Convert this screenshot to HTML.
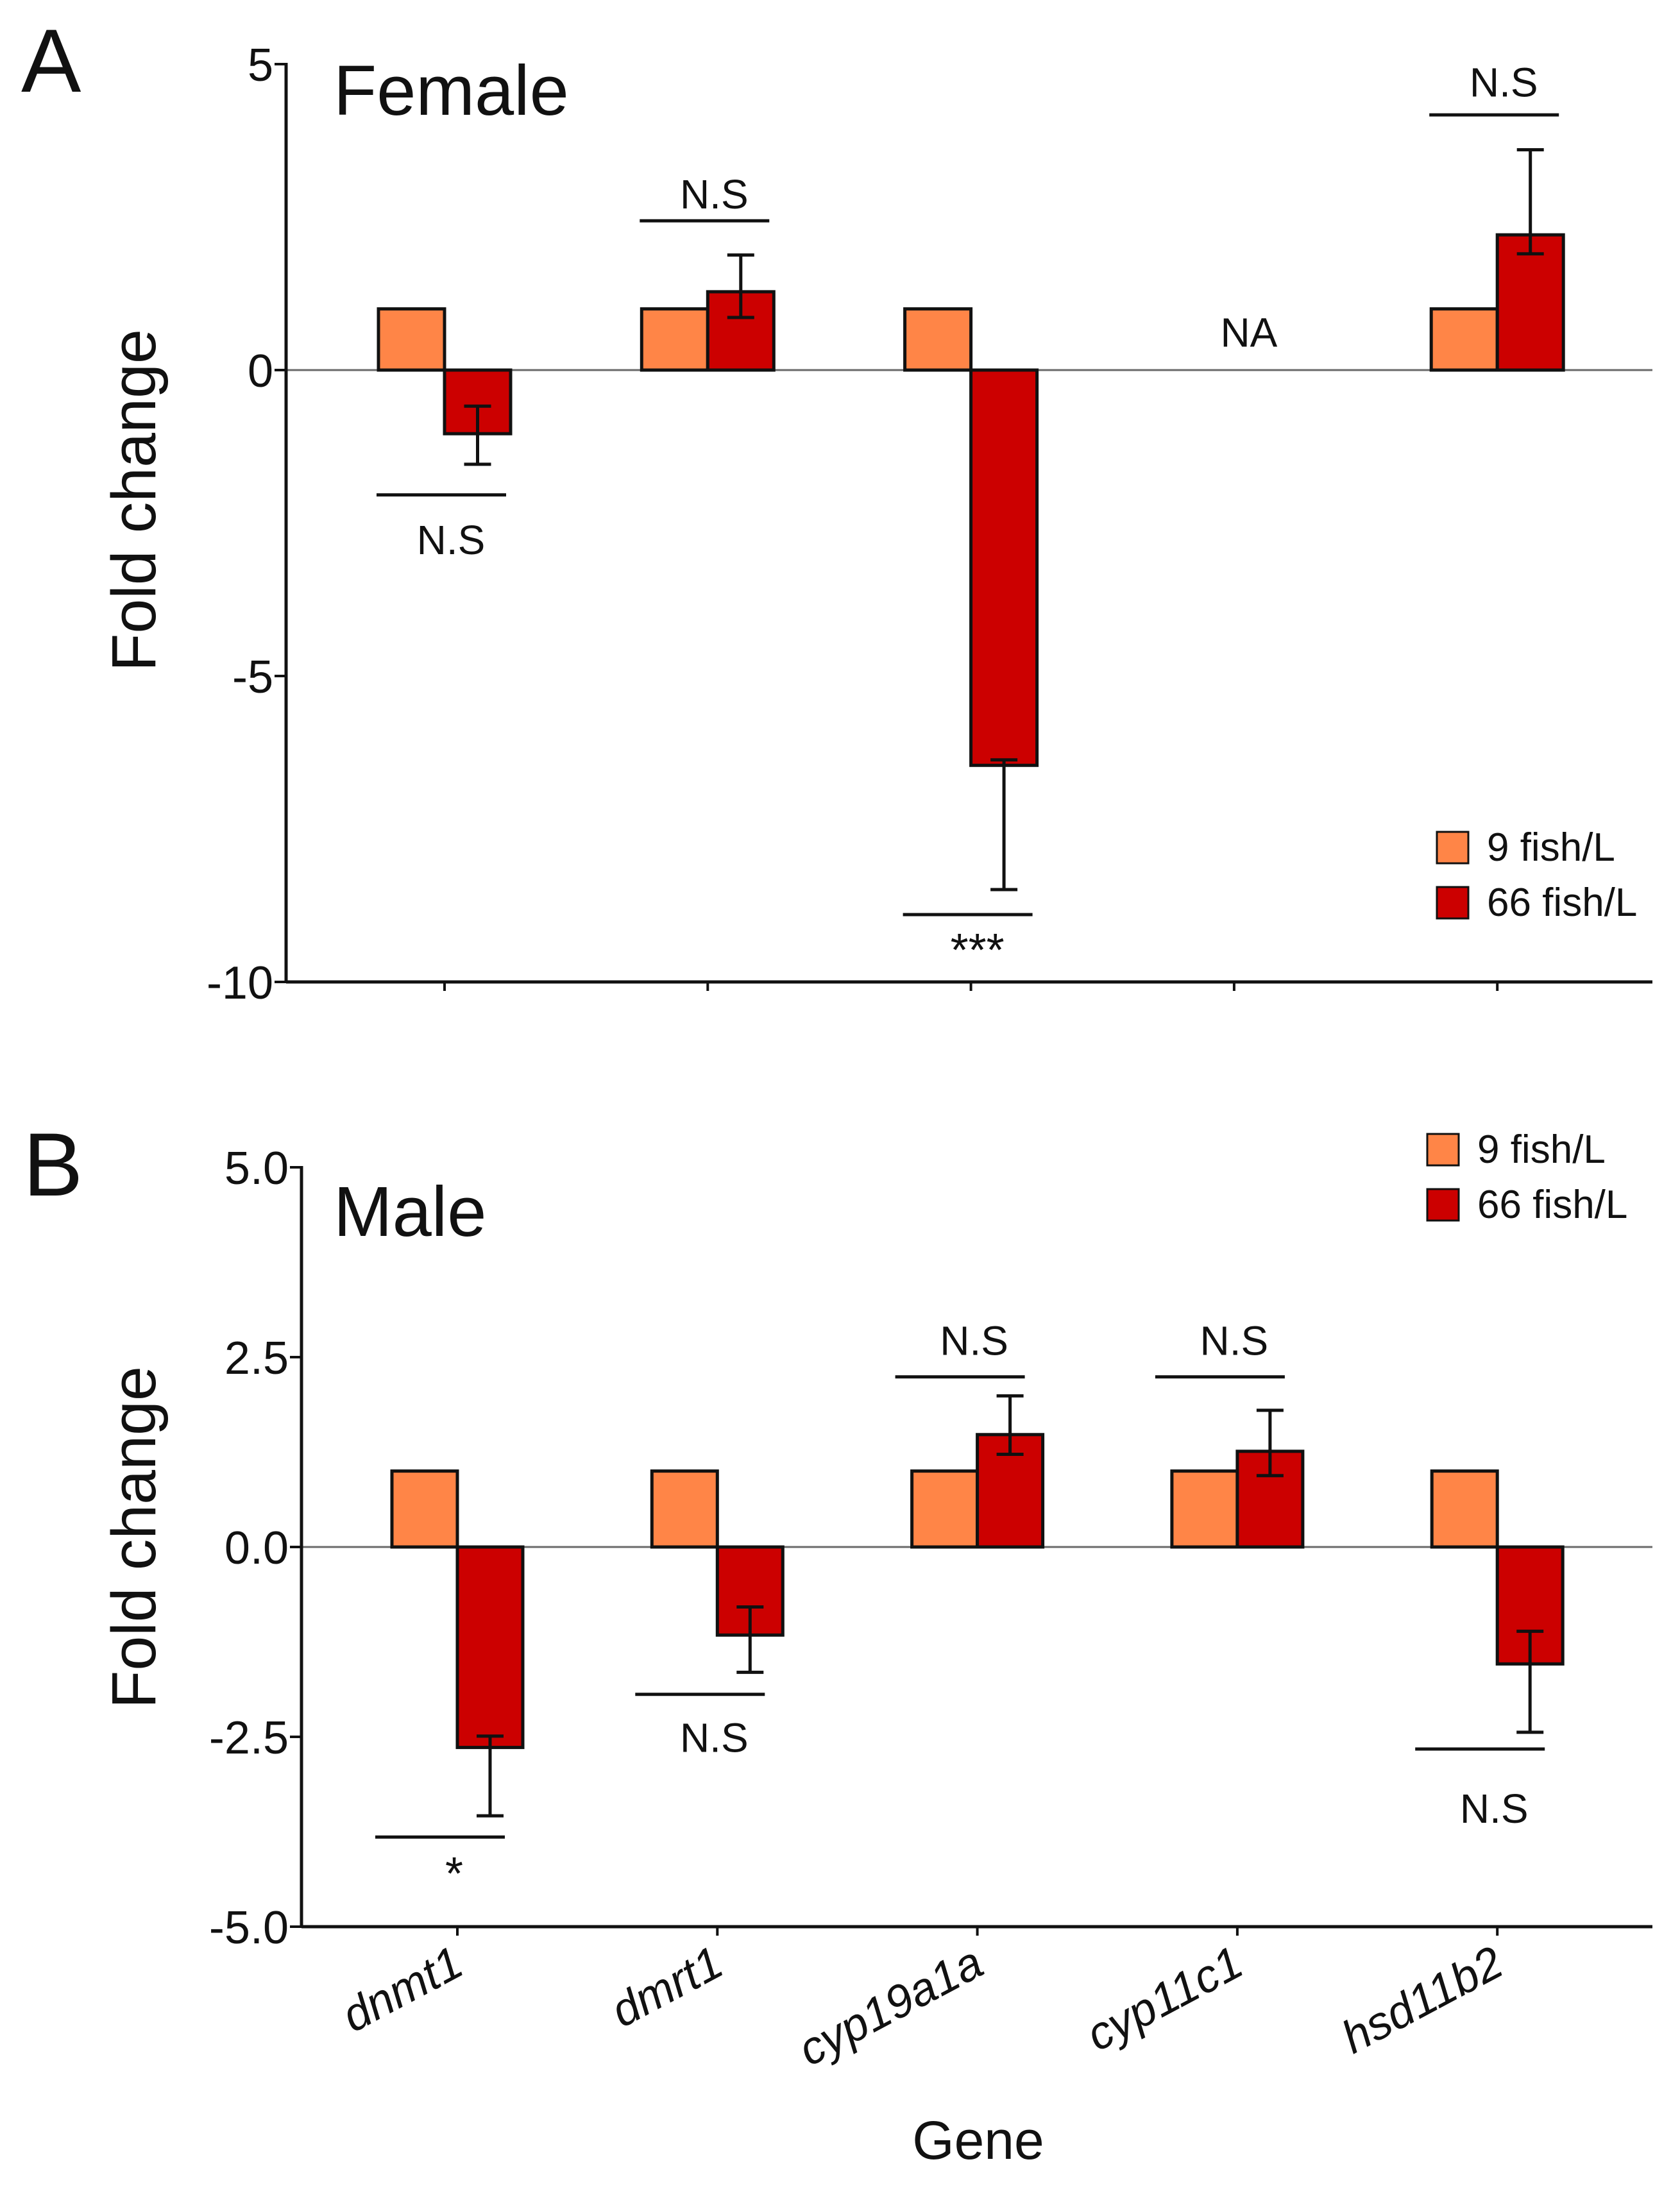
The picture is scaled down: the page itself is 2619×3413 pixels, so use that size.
<!DOCTYPE html>
<html><head><meta charset="utf-8"><style>
html,body{margin:0;padding:0;background:#fff;}
svg{display:block;font-family:"Liberation Sans",Arial,sans-serif;}
</style></head><body>
<svg id="fig" width="2619" height="3413" viewBox="0 0 2619 3413" xmlns="http://www.w3.org/2000/svg"></svg>
<script>
const genes = ["dnmt1","dmrt1","cyp19a1a","cyp11c1","hsd11b2"];
// Panel A (Female)
const femaleLow = [1, 1, 1, null, 1];
const femaleHigh = [-1.04, 1.28, -6.46, null, 2.21];
const femaleErrTop = [-0.59, 1.88, -6.37, null, 3.6];
const femaleErrBottom = [-1.54, 0.86, -8.49, null, 1.9];
const femaleSigLine = [-2.04, 2.44, -8.9, null, 4.17];
const femaleSigTextPos = [-3.01, 2.64, -9.74, 0.38, 4.47];
const femaleSigText = ["N.S","N.S","***","NA","N.S"];
const femaleTicks = [5, 0, -5, -10];
const femaleTickLabels = ["5","0","-5","-10"];
// Panel B (Male)
const maleLow = [1, 1, 1, 1, 1];
const maleHigh = [-2.64, -1.16, 1.48, 1.26, -1.54];
const maleErrTop = [-2.49, -0.79, 1.99, 1.80, -1.11];
const maleErrBottom = [-3.54, -1.65, 1.22, 0.94, -2.44];
const maleSigLine = [-3.82, -1.94, 2.24, 2.24, -2.66];
const maleSigTextPos = [-4.51, -2.70, 2.53, 2.53, -3.63];
const maleSigText = ["*","N.S","N.S","N.S","N.S"];
const maleTicks = [5, 2.5, 0, -2.5, -5];
const maleTickLabels = ["5.0","2.5","0.0","-2.5","-5.0"];
const seriesNames = ["9 fish/L","66 fish/L"];

const NS="http://www.w3.org/2000/svg";
const svg=document.getElementById('fig');
function mk(tag,attrs,parent){const e=document.createElementNS(NS,tag);for(const k in attrs)e.setAttribute(k,attrs[k]);(parent||svg).appendChild(e);return e;}
function txt(s,attrs,parent){const e=mk('text',attrs,parent);e.textContent=s;return e;}

function panel(cfg){
  const g=mk('g',{});
  
  
  const y=v=>cfg.y0-(v)*cfg.ppu;
  const x=i=>cfg.c0+i*cfg.step;
  const ymin=cfg.ticks[cfg.ticks.length-1], ymax=cfg.ticks[0];
  const z=mk('line',{x1:cfg.ax,x2:cfg.axEnd,y1:y(0),y2:y(0),stroke:'#6a6a6a','stroke-width':3},g);
  
  
  const bw=cfg.bw;
  for(let i=0;i<genes.length;i++){
    if(cfg.low[i]!==null){
      const v=cfg.low[i];
      const r=mk('rect',{x:x(i)-bw,y:Math.min(y(v),y(0)),width:bw,height:Math.abs(y(v)-y(0)),fill:'#FF8547',stroke:'#111','stroke-width':5},g);
      
      
    }
    if(cfg.high[i]!==null){
      const v=cfg.high[i];
      const r=mk('rect',{x:x(i),y:Math.min(y(v),y(0)),width:bw,height:Math.abs(y(v)-y(0)),fill:'#CC0000',stroke:'#111','stroke-width':5},g);
      
      
      const cx=x(i)+bw/2;
      const eg=mk('g',{stroke:'#111','stroke-width':5},g);
      
      
      mk('line',{x1:cx,x2:cx,y1:y(cfg.errTop[i]),y2:y(cfg.errBottom[i])},eg);
      mk('line',{x1:cx-21,x2:cx+21,y1:y(cfg.errTop[i]),y2:y(cfg.errTop[i])},eg);
      mk('line',{x1:cx-21,x2:cx+21,y1:y(cfg.errBottom[i]),y2:y(cfg.errBottom[i])},eg);
    }
    const s=cfg.sigText[i];
    if(cfg.sigLine[i]!==null){
      const ly=y(cfg.sigLine[i]);
      const l=mk('line',{x1:x(i)-106+cfg.sigDx,x2:x(i)+96+cfg.sigDx,y1:ly,y2:ly,stroke:'#111','stroke-width':5},g);
      
      
      const t=txt(s,{x:x(i)+10+cfg.textDx,y:y(cfg.sigTextPos[i]),'font-size':s.indexOf('*')>=0?72:64,'text-anchor':'middle',fill:'#111'},g);
      
      
    } else {
      const t=txt(s,{x:x(i)+23,y:y(cfg.sigTextPos[i]),'font-size':64,'text-anchor':'middle',fill:'#111'},g);
      
      
    }
  }
  const ya=mk('line',{x1:cfg.ax,x2:cfg.ax,y1:y(ymax)-2,y2:y(ymin)+2,stroke:'#111','stroke-width':5},g);
  
  
  const xa=mk('line',{x1:cfg.ax,x2:cfg.axEnd,y1:y(ymin),y2:y(ymin),stroke:'#111','stroke-width':5},g);
  
  
  for(let k=0;k<cfg.ticks.length;k++){
    const ty=y(cfg.ticks[k]);
    mk('line',{x1:cfg.ax-18,x2:cfg.ax,y1:ty,y2:ty,stroke:'#111','stroke-width':4},g);
    const t=txt(cfg.tickLabels[k],{x:cfg.ax-20,y:ty+26,'font-size':72,'text-anchor':'end',fill:'#111'},g);
    
    
  }
  for(let i=0;i<genes.length;i++){
    mk('line',{x1:x(i),x2:x(i),y1:y(ymin),y2:y(ymin)+14,stroke:'#111','stroke-width':4},g);
    if(cfg.xlabels){
      const t=txt(genes[i],{x:x(i)+14,y:y(ymin)+72,'font-size':72,'font-style':'italic','text-anchor':'end',fill:'#111',transform:`rotate(-28 ${x(i)+14} ${y(ymin)+72})`},g);
      
      
    }
  }
  const yt=txt('Fold change',{x:0,y:0,'font-size':97,'text-anchor':'middle',fill:'#111',transform:`translate(242 ${cfg.ytitleY}) rotate(-90)`},g);
  
  
  const pl=txt(cfg.letter,{x:cfg.letterX,y:cfg.letterY,'font-size':140,fill:'#111'},g);
  
  
  const pt=txt(cfg.title,{x:520,y:cfg.titleY,'font-size':110,fill:'#111'},g);
  
  
  const lg=mk('g',{},g);
  
  
  const cols=['#FF8547','#CC0000'];
  for(let s=0;s<2;s++){
    const ly=cfg.legY+s*cfg.legStep;
    const r=mk('rect',{x:cfg.legX,y:ly,width:49,height:49,fill:cols[s],stroke:'#111','stroke-width':3},lg);
    
    
    const t=txt(seriesNames[s],{x:cfg.legX+78,y:ly+45,'font-size':62,fill:'#111'},lg);
    
    
  }
}

panel({name:'panel-a-female',y0:577,ppu:95.4,c0:693,step:410.3,bw:103,ax:446,axEnd:2576,
  low:femaleLow,high:femaleHigh,errTop:femaleErrTop,errBottom:femaleErrBottom,sigLine:femaleSigLine,sigTextPos:femaleSigTextPos,sigText:femaleSigText,
  sigDx:0,textDx:0,
  ticks:femaleTicks,tickLabels:femaleTickLabels,xlabels:false,ytitleY:780,letter:'A',letterX:33,letterY:143,title:'Female',titleY:179,
  legX:2240,legY:1297,legStep:86});
panel({name:'panel-b-male',y0:2412,ppu:118.4,c0:713,step:405.3,bw:102,ax:470,axEnd:2576,
  low:maleLow,high:maleHigh,errTop:maleErrTop,errBottom:maleErrBottom,sigLine:maleSigLine,sigTextPos:maleSigTextPos,sigText:maleSigText,
  sigDx:-22,textDx:-15,
  ticks:maleTicks,tickLabels:maleTickLabels,xlabels:true,ytitleY:2397,letter:'B',letterX:36,letterY:1864,title:'Male',titleY:1927,
  legX:2225,legY:1768,legStep:86});

const gx=txt('Gene',{x:1525,y:3366,'font-size':84,'text-anchor':'middle',fill:'#111'});


</script>
</body></html>
